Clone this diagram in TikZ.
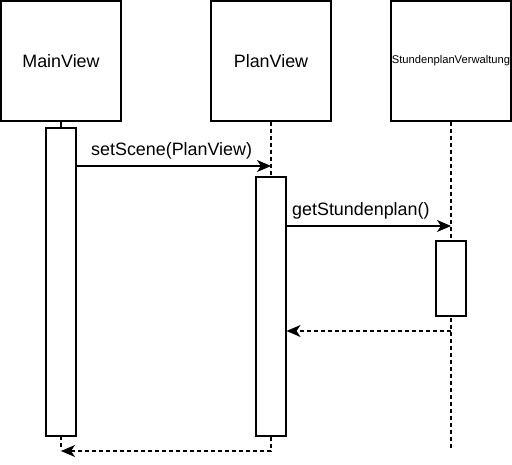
\documentclass[tikz,border=0pt]{standalone}
\usepackage{fontspec}
\setmainfont{Liberation Sans}
\usetikzlibrary{arrows.meta}
\begin{document}
\begin{tikzpicture}[x=1pt,y=-1pt,
  objbox/.style={draw,line width=1.1pt,minimum width=120pt,minimum height=120pt,inner sep=0pt,fill=white},
  actbox/.style={draw,line width=1.1pt,fill=white,inner sep=0pt,minimum width=30pt},
  life/.style={line width=1.1pt,dash pattern=on 4pt off 3pt},
  msg/.style={line width=1.1pt,-{Stealth[length=14pt,width=12pt,inset=4pt]}},
  ret/.style={msg,dash pattern=on 4pt off 3pt},
  lbl/.style={font=\fontsize{17.9}{20}\selectfont,inner sep=0pt,anchor=west}]
\useasboundingbox (0,0) rectangle (512,465);
% object boxes
\node[objbox] (mv) at (61,61) {\fontsize{17.9}{20}\selectfont MainView};
\node[objbox] (pv) at (271,61) {\fontsize{17.9}{20}\selectfont PlanView};
\node[objbox] (sv) at (451,61) {\fontsize{11.2}{13}\selectfont StundenplanVerwaltung};
% lifeline end points
\coordinate (mvEnd) at (61,450);
\coordinate (pvEnd) at (271,450);
\coordinate (svEnd) at (451,450);
% lifelines
\draw[line width=1.1pt] (mv.south) -- (61,128);
\draw[life] (61,436) -- (mvEnd);
\draw[life] (pv.south) -- (pvEnd);
\draw[life] (sv.south) -- (svEnd);
% activations
\node[actbox,minimum height=308pt] (mva) at (61,282) {};
\node[actbox,minimum height=259pt] (pva) at (271,306.5) {};
\node[actbox,minimum height=75pt] (sva) at (451,278.5) {};
% messages
\coordinate (m1end) at (271,166);
\draw[msg] (mva.east |- m1end) -- (m1end);
\node[lbl] (l1) at (91,151) {setScene(PlanView)};
\coordinate (m2end) at (451,226);
\draw[msg] (pva.east |- m2end) -- (m2end);
\node[lbl] (l2) at (292,211) {getStundenplan()};
\coordinate (r1start) at (451,331);
\draw[ret] (r1start) -- (pva.east |- r1start);
\coordinate (r2corner) at (271,451);
\draw[ret] (pva.south) -- (r2corner) -- (61,451);
\end{tikzpicture}
\end{document}
